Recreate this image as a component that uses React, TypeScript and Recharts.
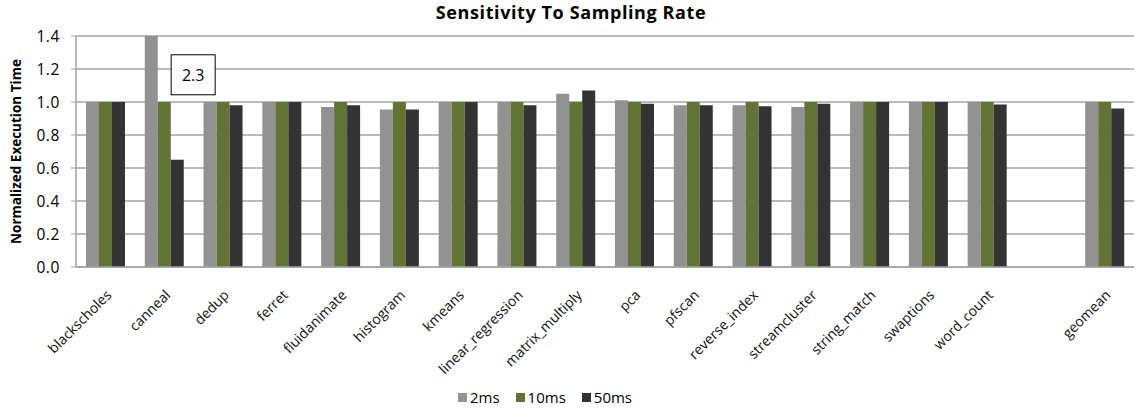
import { Bar, BarChart, CartesianGrid, Legend, ReferenceDot, XAxis, YAxis } from 'recharts';

const benchmarks = [
  'blackscholes', 'canneal', 'dedup', 'ferret', 'fluidanimate', 'histogram', 'kmeans',
  'linear_regression', 'matrix_multiply', 'pca', 'pfscan', 'reverse_index', 'streamcluster',
  'string_match', 'swaptions', 'word_count', ' ', 'geomean'
];
const ms2 = [1.0, 2.3, 1.0, 1.0, 0.97, 0.955, 1.0, 1.0, 1.05, 1.01, 0.98, 0.98, 0.97, 1.0, 1.0, 1.0, null, 1.0];
const ms10 = [1.0, 1.0, 1.0, 1.0, 1.0, 1.0, 1.0, 1.0, 1.0, 1.0, 1.0, 1.0, 1.0, 1.0, 1.0, 1.0, null, 1.0];
const ms50 = [1.0, 0.65, 0.98, 1.0, 0.98, 0.955, 1.0, 0.98, 1.07, 0.99, 0.98, 0.975, 0.99, 1.0, 1.0, 0.985, null, 0.96];
const yTicks = [0, 0.2, 0.4, 0.6, 0.8, 1.0, 1.2, 1.4];

const series = [
  { key: 'ms2', name: '2ms', color: '#929292' },
  { key: 'ms10', name: '10ms', color: '#627435' },
  { key: 'ms50', name: '50ms', color: '#333333' }
];

const data = benchmarks.map((name, i) => ({ name, ms2: ms2[i], ms10: ms10[i], ms50: ms50[i] }));

const font = '"Open Sans", Lato, sans-serif';
const gridColor = '#a3a3a3';

const XTick = ({ x, y, payload }: any) => {
  if (!payload.value.trim()) return null;
  const px = x + 7;
  const py = y + 21;
  return (
    <text x={px} y={py} transform={`rotate(-45, ${px}, ${py})`} textAnchor="end" fontSize={14} fill="#111" fontFamily={font}>
      {payload.value}
    </text>
  );
};

const YLabel = ({ viewBox }: any) => {
  const cx = 16;
  const cy = viewBox.y + viewBox.height / 2;
  return (
    <text x={cx} y={cy} transform={`rotate(-90, ${cx}, ${cy})`} textAnchor="middle" dominantBaseline="central" fontSize={13.5} fontWeight={700} fill="#000" fontFamily={font}>
      Normalized Execution Time
    </text>
  );
};

// callout for the clipped canneal 2ms bar
const Callout = ({ cx, cy }: any) => {
  const bx = cx + 29;
  return (
    <g>
      <rect x={bx - 22} y={cy - 20} width={44} height={40} fill="#fff" stroke="#000" strokeWidth={1} />
      <text x={bx} y={cy} textAnchor="middle" dominantBaseline="central" fontSize={16} fill="#000" fontFamily={font}>
        {ms2[1]}
      </text>
    </g>
  );
};

const LegendBox = () => (
  <div style={{ width: 1136, height: 20, display: 'flex', justifyContent: 'center', alignItems: 'center', paddingRight: 30, boxSizing: 'border-box', fontFamily: font, fontSize: 15, color: '#000' }}>
    {series.map((s) => (
      <div key={s.key} style={{ display: 'flex', alignItems: 'center', marginRight: 16 }}>
        <span style={{ width: 9, height: 9, background: s.color, display: 'inline-block', marginRight: 3 }} />
        <span>{s.name}</span>
      </div>
    ))}
  </div>
);

export default function App() {
  return (
    <div style={{ position: 'absolute', left: 0, top: 0, width: 1136, height: 411, background: '#fff' }}>
      <div style={{ position: 'absolute', top: 0, left: 0, width: 1136, paddingLeft: 6, boxSizing: 'border-box', textAlign: 'center', fontFamily: font, fontWeight: 700, fontSize: 18, letterSpacing: 0.6, color: '#000' }}>
        Sensitivity To Sampling Rate
      </div>
      <BarChart width={1136} height={411} data={data} margin={{ top: 36, right: 2, left: 0, bottom: 4 }} barCategoryGap="17%" barGap={0}>
        <CartesianGrid vertical={false} stroke={gridColor} strokeWidth={1.5} />
        <XAxis dataKey="name" interval={0} height={120} tick={<XTick />} tickLine={false} axisLine={{ stroke: gridColor, strokeWidth: 1.5 }} />
        <YAxis
          width={76}
          domain={[0, 1.4]}
          ticks={yTicks}
          allowDataOverflow
          tickFormatter={(v: number) => v.toFixed(1)}
          tick={{ fill: '#000', fontSize: 15.5, fontFamily: font, letterSpacing: 0.6 }}
          tickSize={5}
          tickMargin={11}
          tickLine={{ stroke: gridColor }}
          axisLine={{ stroke: gridColor, strokeWidth: 1.5 }}
          label={<YLabel />}
        />
        <Legend verticalAlign="bottom" height={20} content={<LegendBox />} />
        {series.map((s) => (
          <Bar key={s.key} dataKey={s.key} name={s.name} fill={s.color} isAnimationActive={false} />
        ))}
        <ReferenceDot x="canneal" y={1.165} ifOverflow="visible" shape={<Callout />} />
      </BarChart>
    </div>
  );
}
